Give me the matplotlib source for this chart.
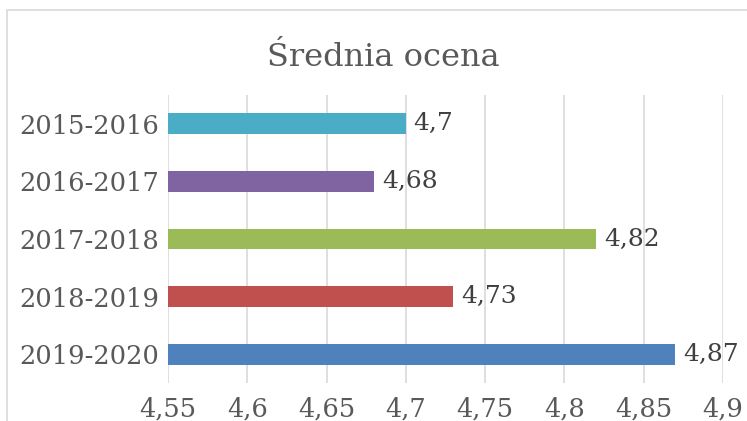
import matplotlib
matplotlib.use("Agg")
import matplotlib.pyplot as plt
from matplotlib.patches import Rectangle

categories = ["2019-2020", "2018-2019", "2017-2018", "2016-2017", "2015-2016"]
values = [4.87, 4.73, 4.82, 4.68, 4.70]
colors = ["#4F81BD", "#C0504D", "#9BBB59", "#8064A2", "#4BACC6"]
xticks = [4.55, 4.6, 4.65, 4.7, 4.75, 4.8, 4.85, 4.9]
title = "Średnia ocena"

plt.rcParams['font.family'] = ['DejaVu Serif']
W, H = 747, 421
fig = plt.figure(figsize=(W / 100, H / 100), dpi=100)
fig.patch.set_facecolor("white")

# chart border
fig.patches.append(Rectangle((7 / W, -0.1), 1.2, (1 - 10 / H) + 0.1, transform=fig.transFigure,
                             fill=False, edgecolor="#D9D9D9", linewidth=1.2))

ax = fig.add_axes([168 / W, 1 - 383 / H, (723 - 168) / W, (383 - 95) / H])
y = list(range(len(categories)))
ax.barh(y, [v - 4.55 for v in values], left=4.55, height=0.36, color=colors, zorder=3)
for yi, v in zip(y, values):
    ax.annotate(f"{v:g}".replace(".", ","), (v, yi), xytext=(5.5, 0), textcoords="offset points",
                va="center", ha="left", fontsize=18, color="#404040", zorder=4)

ax.set_xlim(4.55, 4.9)
ax.set_ylim(-0.5, 4.5)
ax.set_xticks(xticks)
ax.set_xticklabels([f"{t:g}".replace(".", ",") for t in xticks], fontsize=18.5, color="#595959")
ax.set_yticks(y)
ax.set_yticklabels(categories, fontsize=18.5, color="#595959")
ax.tick_params(axis="both", length=0)
ax.tick_params(axis="x", pad=10)
ax.tick_params(axis="y", pad=6)
ax.grid(axis="x", color="#D9D9D9", linewidth=1.2, zorder=0)
for s in ax.spines.values():
    s.set_visible(False)

fig.text(383 / W, 1 - 58 / H, title, ha="center", va="center",
         fontsize=23, color="#595959")

fig.savefig("out.png", dpi=100)
